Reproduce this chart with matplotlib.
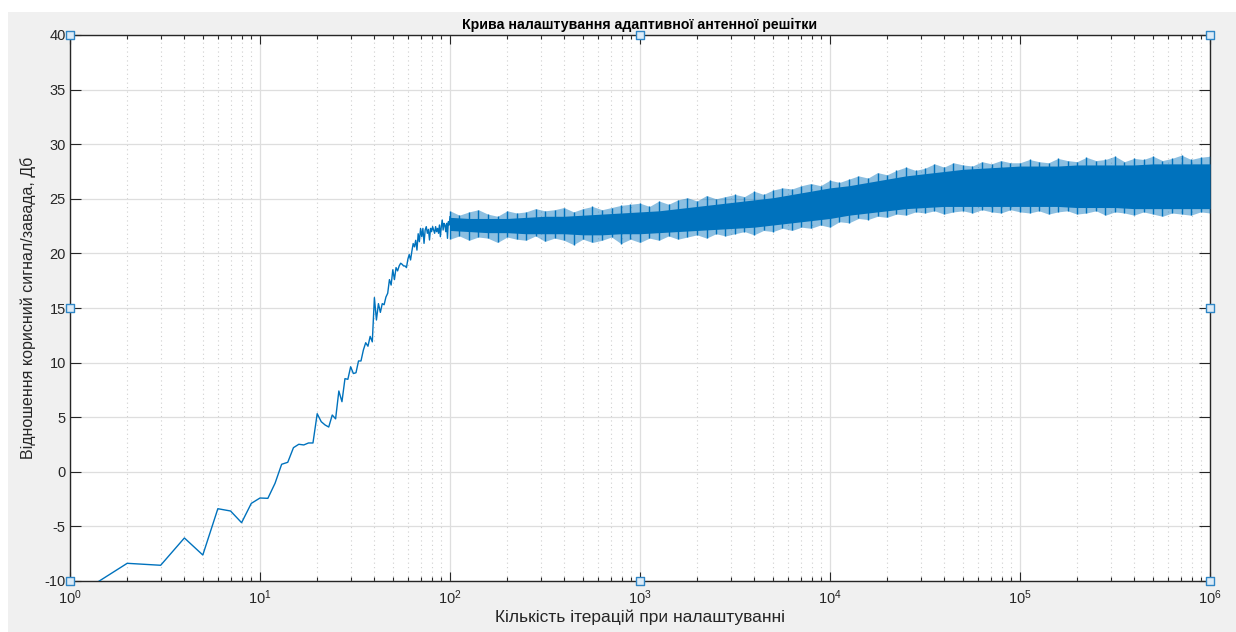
import numpy as np
import matplotlib
matplotlib.use("Agg")
import matplotlib.pyplot as plt
from matplotlib.patches import Rectangle

plt.rcParams['font.family'] = ['Liberation Sans', 'DejaVu Sans']
plt.rcParams['mathtext.fontset'] = 'custom'
plt.rcParams['mathtext.rm'] = 'Liberation Sans'
plt.rcParams['mathtext.it'] = 'Liberation Sans'
plt.rcParams['axes.unicode_minus'] = False

# ---- data ----
early_iter = list(range(1, 101))
early_snr = [-11.7, -8.38, -8.56, -6.06, -7.62, -3.38, -3.59, -4.66, -2.89, -2.40,
             -2.43, -1.05, 0.69, 0.87, 2.21, 2.52, 2.46, 2.64, 2.64, 5.32,
             4.59, 4.29, 4.10, 5.2, 4.85, 7.4, 6.42, 8.53, 8.47, 9.62,
             9.0, 9.07, 10.15, 10.15, 11.15, 11.82, 11.5, 12.4, 11.9, 15.95,
             13.9, 15.4, 14.6, 15.4, 15.3, 16.0, 16.35, 17.6, 17.1, 18.5,
             17.6, 18.7, 18.4, 18.85, 19.1, 19.0, 18.85, 18.85, 18.7, 19.46,
             19.9, 19.4, 20.2, 20.9, 20.6, 21.2, 20.3, 21.8, 21.07, 22.29,
             21.53, 22.29, 20.92, 22.14, 22.45, 21.84, 22.2, 21.23, 22.29, 21.99,
             22.45, 22.14, 21.84, 22.45, 21.99, 22.29, 21.84, 22.6, 21.53, 22.45,
             23.06, 22.14, 22.75, 22.6, 21.99, 22.75, 21.38, 22.9, 22.6, 23.36]

# dense noisy part (iterations 100 .. 1e6): spike tips
band_iter = [100, 112, 126, 141, 158, 178, 200, 224, 251, 282,
             316, 355, 398, 447, 501, 562, 631, 708, 794, 891,
             1000, 1122, 1259, 1413, 1585, 1778, 1995, 2239, 2512, 2818,
             3162, 3548, 3981, 4467, 5012, 5623, 6310, 7079, 7943, 8913,
             10000, 11220, 12589, 14125, 15849, 17783, 19953, 22387, 25119, 28184,
             31623, 35481, 39811, 44668, 50119, 56234, 63096, 70795, 79433, 89125,
             100000, 112202, 125893, 141254, 158489, 177828, 199526, 223872, 251189, 281838,
             316228, 354813, 398107, 446684, 501187, 562341, 630957, 707946, 794328, 891251,
             1000000]
tip_hi = [23.9, 23.5, 23.8, 24.0, 23.6, 23.4, 23.9, 23.7, 23.8, 24.1,
          23.9, 24.0, 24.2, 23.8, 24.1, 24.3, 24.0, 24.2, 24.4, 24.5,
          24.6, 24.3, 24.8, 24.5, 24.9, 25.1, 24.8, 25.3, 25.0, 25.2,
          25.4, 25.2, 25.7, 25.4, 25.8, 26.0, 25.9, 26.2, 26.4, 26.2,
          26.7, 26.5, 26.8, 27.1, 26.9, 27.4, 27.2, 27.6, 27.9, 27.6,
          27.8, 28.2, 27.9, 28.3, 28.1, 28.0, 28.4, 28.2, 28.5, 28.3,
          28.3, 28.6, 28.4, 28.3, 28.7, 28.5, 28.4, 28.8, 28.5, 28.6,
          28.9, 28.4, 28.7, 28.6, 28.9, 28.5, 28.7, 29.0, 28.6, 28.8,
          28.9]
tip_lo = [21.3, 21.6, 21.2, 21.5, 21.4, 21.0, 21.5, 21.3, 21.2, 21.6,
          21.1, 21.4, 21.2, 20.8, 21.3, 21.0, 21.2, 21.5, 20.9, 21.3,
          21.0, 21.4, 21.2, 21.6, 21.3, 21.5, 21.7, 21.4, 21.8, 21.6,
          21.8, 22.0, 21.7, 22.1, 22.0, 22.3, 22.1, 22.4, 22.3, 22.6,
          22.4, 22.9, 22.8, 23.2, 23.1, 23.4, 23.3, 23.6, 23.5, 23.8,
          23.7, 23.9, 23.6, 23.8, 23.9, 23.7, 24.0, 23.8, 23.7, 24.0,
          23.8, 23.7, 23.9, 23.6, 23.8, 23.9, 23.6, 23.7, 23.9, 23.5,
          23.8, 23.7, 23.5, 23.8, 23.6, 23.4, 23.7, 23.6, 23.5, 23.8,
          23.7]
# dense (solid) core of the band, every 0.1 decade
core_iter = [100, 126, 158, 200, 251, 316, 398, 501, 631, 794,
             1000, 1259, 1585, 1995, 2512, 3162, 3981, 5012, 6310, 7943,
             10000, 12589, 15849, 19953, 25119, 31623, 39811, 50119, 63096, 79433,
             100000, 125893, 158489, 199526, 251189, 316228, 398107, 501187, 630957, 794328,
             1000000]
core_hi = [23.3, 23.2, 23.2, 23.2, 23.3, 23.4, 23.4, 23.5, 23.6, 23.7,
           23.8, 23.9, 24.1, 24.3, 24.5, 24.7, 24.9, 25.1, 25.4, 25.7,
           26.0, 26.2, 26.5, 26.8, 27.1, 27.3, 27.5, 27.7, 27.8, 27.9,
           28.0, 28.0, 28.0, 28.1, 28.1, 28.1, 28.1, 28.2, 28.2, 28.2, 28.2]
core_lo = [22.1, 22.0, 21.9, 21.9, 21.8, 21.8, 21.8, 21.7, 21.7, 21.8,
           21.8, 21.9, 22.0, 22.1, 22.2, 22.3, 22.4, 22.6, 22.8, 23.0,
           23.2, 23.5, 23.7, 23.9, 24.1, 24.2, 24.3, 24.3, 24.3, 24.3,
           24.3, 24.3, 24.3, 24.2, 24.2, 24.2, 24.1, 24.1, 24.1, 24.1, 24.1]

title = 'Крива налаштування адаптивної антенної решітки'
xlabel = 'Кількість ітерацій при налаштуванні'
ylabel = 'Відношення корисний сигнал/завада, Дб'

# ---- figure ----
W, H = 1236, 632
fig = plt.figure(figsize=(W / 100, H / 100), dpi=100)
fig.patch.set_facecolor('#f0f0f0')
fig.patches.append(Rectangle((0, 1 - 12 / H), 1, 12 / H, transform=fig.transFigure,
                             facecolor='white', edgecolor='none', zorder=-10))
fig.patches.append(Rectangle((0, 0), 8 / W, 1, transform=fig.transFigure,
                             facecolor='white', edgecolor='none', zorder=-10))

ax = fig.add_axes([70 / W, 51 / H, 1140 / W, 546 / H])
ax.set_facecolor('white')

blue = '#0072BD'
ax.fill_between(band_iter, tip_lo, tip_hi, color=blue, alpha=0.45, lw=0, zorder=3)
ax.vlines(band_iter, tip_lo, tip_hi, color=blue, lw=1.0, zorder=3)
ax.fill_between(core_iter, core_lo, core_hi, color=blue, lw=0, zorder=3)
ax.plot(early_iter, early_snr, color=blue, lw=1.0, zorder=4)

ax.set_xscale('log')
ax.set_xlim(1, 1e6)
ax.set_ylim(-10, 40)
ax.set_yticks(np.arange(-10, 41, 5))
ax.set_xticks([1, 10, 100, 1000, 1e4, 1e5, 1e6])
ax.set_xticklabels([r'$10^{%d}$' % i for i in range(7)])

ax.grid(True, which='major', color='#dedede', lw=0.9, ls='-')
ax.grid(True, which='minor', axis='x', color='#cfcfcf', lw=0.8, ls=(0, (1, 3)))
ax.set_axisbelow(True)

tc = '#262626'
for s in ax.spines.values():
    s.set_color(tc)
    s.set_linewidth(1.0)
ax.tick_params(which='both', direction='in', top=True, right=True, colors=tc,
               labelsize=10.5)
ax.tick_params(axis='x', which='major', length=6.5, width=0.8, pad=5)
ax.tick_params(axis='x', which='minor', length=3, width=0.8)
ax.tick_params(axis='y', which='major', length=8, width=0.8, pad=3)

ax.set_title(title, fontsize=10.2, fontweight='bold', color='black', pad=4)
ax.set_xlabel(xlabel, fontsize=12.5, color=tc, labelpad=2)
ax.set_ylabel(ylabel, fontsize=11.5, color=tc, labelpad=6)

# selection handles
hx = [0, 0.5, 1, 0, 1, 0, 0.5, 1]
hy = [1, 1, 1, 0.5, 0.5, 0, 0, 0]
ax.scatter(hx, hy, marker='s', s=26, facecolor='#dcebf7', edgecolor='#2f86c6',
           linewidth=1.0, transform=ax.transAxes, clip_on=False, zorder=10)

fig.savefig('out.png', dpi=100, facecolor=fig.get_facecolor())
